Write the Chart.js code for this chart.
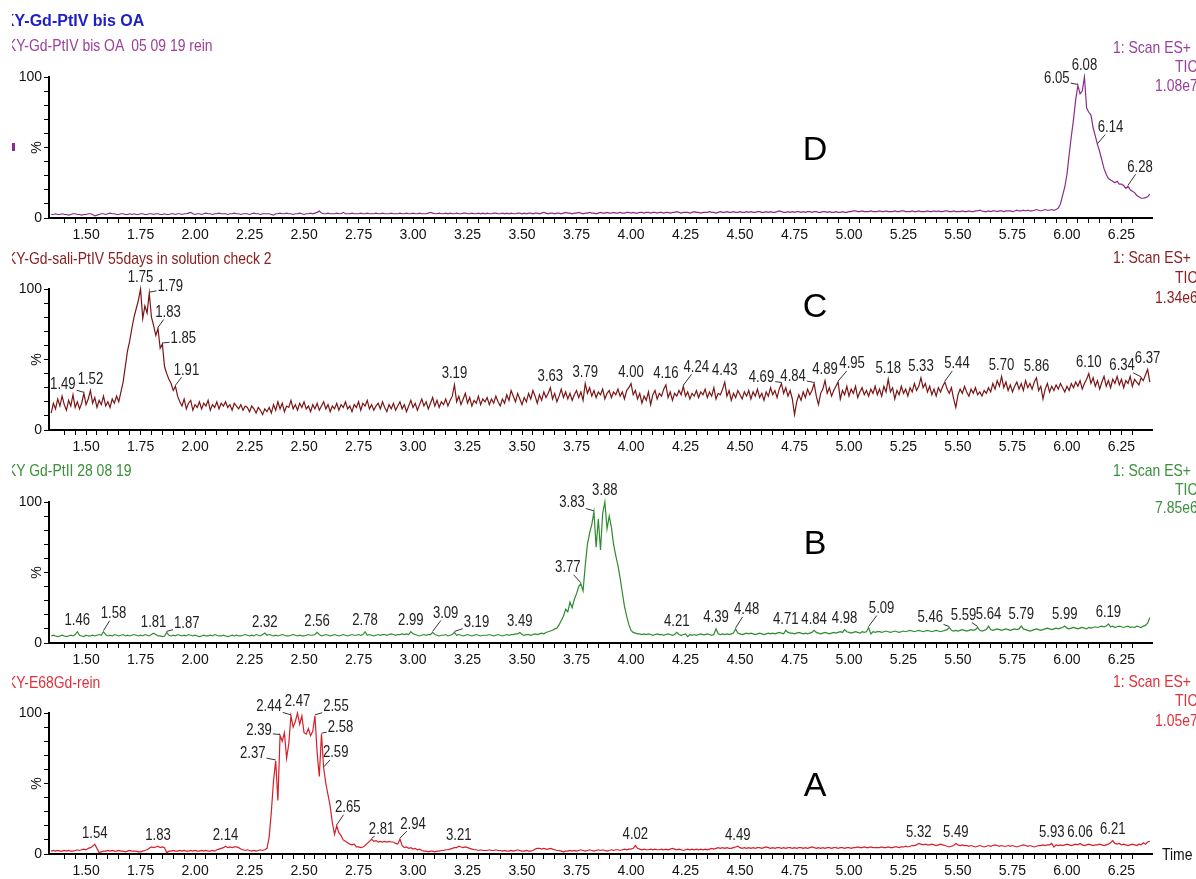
<!DOCTYPE html>
<html>
<head>
<meta charset="utf-8">
<script src="https://cdn.jsdelivr.net/npm/chart.js@4.4.1/dist/chart.umd.min.js"></script>
<style>
body { margin:0; width:1196px; height:879px; overflow:hidden; background:#fff; position:relative;
       font-family:"Liberation Sans", Arial, sans-serif; }
canvas { position:absolute; left:0; }
/* MassLynx uses a narrow face: squeeze Liberation Sans horizontally */
.txt { position:absolute; white-space:pre; line-height:1; font-size:17px;
       transform:translateY(-50%) scaleX(0.82); transform-origin:left center; }
.title { position:absolute; white-space:pre; line-height:1; transform:translateY(-50%);
         font:bold 16px "Liberation Sans", Arial, sans-serif; color:#2020c8; }
.clip { position:absolute; left:12px; top:0; width:420px; height:879px; overflow:hidden; }
.big { position:absolute; font-size:34px; line-height:1; transform:translate(-50%,-50%); color:#000; }
</style>
</head>
<body>
<canvas id="panelD" width="1196" height="250" style="top:0px"></canvas>
<canvas id="panelC" width="1196" height="212" style="top:250px"></canvas>
<canvas id="panelB" width="1196" height="213" style="top:462px"></canvas>
<canvas id="panelA" width="1196" height="211" style="top:675px"></canvas>

<!-- sample names, cut at the left edge like the original export -->
<div class="clip">
  <div class="title" style="left:-9px;top:21px">KY-Gd-PtIV bis OA</div>
  <div class="txt" style="left:-5px;top:45px;color:#9b3f9b">KY-Gd-PtIV bis OA  05 09 19 rein</div>
  <div class="txt" style="left:-5px;top:258px;color:#8b2020">KY-Gd-sali-PtIV 55days in solution check 2</div>
  <div class="txt" style="left:-5px;top:470px;color:#3a8f3a">KY Gd-PtII 28 08 19</div>
  <div class="txt" style="left:-5px;top:682px;color:#e0303a">KY-E68Gd-rein</div>
</div>
<div style="position:absolute;left:12px;top:143px;width:3px;height:8px;background:#8b2c8b"></div>

<!-- scan info, right side -->
<div class="txt" style="left:1113px;top:47px;color:#9b3f9b">1: Scan ES+</div>
<div class="txt" style="left:1175px;top:66px;color:#9b3f9b">TIC</div>
<div class="txt" style="left:1155px;top:85px;color:#9b3f9b">1.08e7</div>
<div class="txt" style="left:1113px;top:257px;color:#8b2020">1: Scan ES+</div>
<div class="txt" style="left:1175px;top:277px;color:#8b2020">TIC</div>
<div class="txt" style="left:1155px;top:297px;color:#8b2020">1.34e6</div>
<div class="txt" style="left:1113px;top:470px;color:#3a8f3a">1: Scan ES+</div>
<div class="txt" style="left:1175px;top:489px;color:#3a8f3a">TIC</div>
<div class="txt" style="left:1155px;top:507px;color:#3a8f3a">7.85e6</div>
<div class="txt" style="left:1113px;top:681px;color:#e0303a">1: Scan ES+</div>
<div class="txt" style="left:1175px;top:700px;color:#e0303a">TIC</div>
<div class="txt" style="left:1155px;top:720px;color:#e0303a">1.05e7</div>
<div class="txt" style="left:1162px;top:854px;color:#111">Time</div>

<div class="big" style="left:815px;top:148px">D</div>
<div class="big" style="left:815px;top:305px">C</div>
<div class="big" style="left:815px;top:542px">B</div>
<div class="big" style="left:815px;top:784px">A</div>

<script>
// Scan grid (minutes)
const T0 = 1.34;
const DT = 0.01;
const X_MIN = 1.33, X_MAX = 6.39;

// Relative intensity (%), one value per scan, 20 scans per row; row comment = first time
const signalD = [
  2.5,2.5,3,2.5,2.5,3,2.5,2.5,2,2.5,3,3,2.5,2.5,2,2.5,2.5,3,3,2.5,          // 1.34
  1.5,2,2.5,3,3,2.5,3,3.5,3,3,2.5,2.5,3,3,2.5,2.5,3,2.5,3,2.5,              // 1.54
  2.5,3,3,2.5,2.5,3,3,2.5,3,3,2.5,2.5,3,2.5,2.5,3,3,2.5,3,3,                // 1.74
  2.5,3,3,3.5,4,3,2.5,3,3,2.5,3,3.5,3,3,2.5,3,3,3.5,3,3,                    // 1.94
  3,2.5,3,3,3.5,3,3,2.5,3,3,3,2.5,3,3.5,3,3,2.5,3,3,3,                      // 2.14
  3,2.5,2,3,3,3.5,3,3,3.5,3,3,2.5,3,3,3.5,3,2.5,3,3,3.5,                    // 2.34
  3,3.5,4,5,3.5,3,3,3.5,3,3,3,3.5,3,3,4,3,3,3,3.5,3,                        // 2.54
  3,3,3.5,3,3,3.5,3,3,3,3.5,3,3,3.5,3,3,3,3.5,3,3,3,                        // 2.74
  3.5,3,3,3.5,3,3,3.5,3,3,3.5,3,3,3,3.5,4,3.5,3,3,3.5,3,                    // 2.94
  3,3.5,3,3.5,3,3,3.5,3,3,3.5,3.5,3,3,3.5,3,3,3.5,3,3.5,3,                  // 3.14
  3.5,3,3,3.5,3.5,3,3,3.5,3,3.5,3,3.5,3,3,3.5,3.5,3,3.5,3,3.5,              // 3.34
  3.5,3,3.5,3.5,3,3.5,4,3.5,3,3.5,3.5,3,3.5,3.5,3,3.5,4,3.5,3.5,3,          // 3.54
  3.5,3.5,4,3.5,3,3.5,3.5,4,3.5,3.5,3,3.5,4,3.5,3.5,4,3.5,3.5,4,3.5,        // 3.74
  3.5,4,3.5,3.5,4,4,3.5,4,3.5,3.5,4,4,3.5,4,4,3.5,4,4,3.5,4,                // 3.94
  4,3.5,4,4,3.5,4,4,4.5,4,3.5,4,4,4,3.5,4,4.5,4,4,3.5,4,                    // 4.14
  4,4,4.5,4,4,3.5,4,4.5,4,4,4.5,4,4,4.5,4,4,4.5,4,4,4.5,                    // 4.34
  4,4.5,4,4,4.5,4.5,4,4,4.5,4,4.5,4,4,4.5,5,4.5,4,4,4.5,4,                  // 4.54
  4.5,4,4.5,4.5,4,4.5,4,4.5,4.5,4,4.5,4.5,4,4,4.5,4.5,4,4.5,4,4,            // 4.74
  4.5,4,4,4.5,4,4,4.5,4.5,5,5,4.5,4.5,5,4.5,4.5,4.5,5,4.5,4.5,4.5,          // 4.94
  5,4.5,4.5,5,4.5,4.5,4.5,5,4.5,4.5,5,5,4.5,4.5,4.5,5,4.5,4.5,5,4.5,        // 5.14
  4.5,4.5,5,4.5,4.5,5,4.5,5,4.5,4.5,5,5,4.5,4.5,5,4.5,4.5,4.5,5,4.5,        // 5.34
  4.5,5,4.5,4.5,5,5,5.5,5,4.5,4.5,5,4.5,5,5,4.5,5,5,4.5,5,5,                // 5.54
  5,4.5,5,5.5,5,5,5.5,5,5.5,5,5,5.5,6,5.5,5,5.5,6,5.5,5.5,6,                // 5.74
  5.5,6,7,10,16,22,31,45,58,70,84,94,88,90,100,78,75,73,64,58,              // 5.94
  52,47,41,35,31,28,27,26,25,26,24,24,23,21,22.5,20,19,18,16,15,            // 6.14
  14,14,14.5,15,17                                                          // 6.34
];

const signalC = [
  12,19,15,22,17,24,18,14,21,17,25,16,20,15,19,26,18,22,28,19,   // 1.34
  23,16,21,18,24,17,20,16,22,19,24,20,27,34,45,56,63,72,80,86,   // 1.54
  92,100,79,88,83,97,80,74,67,72,58,61,45,40,36,33,28,31,24,20,  // 1.74
  17,22,15,19,21,14,18,16,20,15,19,17,21,14,18,16,20,15,19,17,   // 1.94
  20,16,18,14,19,17,15,18,14,17,16,13,17,15,12,16,14,11,15,13,   // 2.14
  16,12,18,14,20,15,19,13,17,16,21,15,18,14,19,16,20,15,17,13,   // 2.34
  18,15,19,14,17,20,15,18,13,17,15,19,14,18,16,20,15,17,13,18,   // 2.54
  16,20,14,19,17,21,15,18,14,17,19,15,20,16,13,18,15,19,14,17,   // 2.74
  20,15,18,13,17,21,16,19,14,18,22,17,20,15,19,23,17,21,16,20,   // 2.94
  18,22,17,21,24,32,20,24,18,22,26,19,23,17,21,19,24,18,22,20,   // 3.14
  23,18,22,19,24,20,17,22,19,25,21,28,24,20,26,22,18,23,20,26,   // 3.34
  22,28,24,19,25,21,27,23,26,30,22,26,20,24,29,23,27,22,26,21,   // 3.54
  25,28,23,27,21,33,26,30,24,28,23,27,25,29,22,26,28,23,27,25,   // 3.74
  29,24,27,22,28,30,33,25,28,22,26,19,24,21,27,18,25,28,22,26,   // 3.94
  24,29,32,23,27,21,26,24,28,25,31,24,27,22,26,24,28,23,27,25,   // 4.14
  29,23,27,24,30,22,26,25,29,34,24,28,21,26,23,28,25,22,27,24,   // 4.34
  28,22,27,24,29,23,26,21,27,24,30,25,28,23,29,33,26,30,24,28,   // 4.54
  22,11,20,25,21,27,23,29,25,28,33,24,18,26,29,35,26,30,24,28,   // 4.74
  31,34,22,28,25,31,24,29,26,31,23,27,30,25,28,24,29,26,31,25,   // 4.94
  29,24,31,27,36,27,30,22,28,25,31,26,29,24,30,27,33,28,31,37,   // 5.14
  30,33,27,31,25,29,24,30,27,31,34,29,26,30,22,16,25,29,26,31,   // 5.34
  27,24,29,26,30,25,27,24,28,26,30,27,33,29,35,31,38,30,34,28,   // 5.54
  32,27,31,34,29,33,28,35,30,33,29,34,37,28,31,22,29,33,27,31,   // 5.74
  28,32,29,33,30,27,31,28,33,30,34,31,35,29,33,36,40,33,37,31,   // 5.94
  35,29,34,38,31,35,30,36,33,38,32,36,30,35,33,38,31,36,34,32,   // 6.14
  37,35,39,43,34                                                 // 6.34
];

const signalB = [
  5,5.5,5,4.5,5,5.5,5,4.5,5,5.5,5,6,8,5.5,5,4.5,5.5,5,5,5.5,                // 1.34
  5,5.5,6,5.5,8,6,5,5.5,5,6,5.5,5,5.5,6,5,5.5,5,5.5,6,5.5,                  // 1.54
  5,5.5,5,6,5.5,5,6,7,6,5,5,4.5,5,7.5,5.5,5,5.5,5,6,5.5,                    // 1.74
  5,5.5,5,6,5.5,5,5.5,5,4.5,5,5.5,5,5,5.5,5,6,5.5,5,5,5.5,                  // 1.94
  5,4.5,5,5.5,5,5.5,5,5,5.5,6,5.5,5,5.5,5,6,5.5,5,6,7,5.5,                  // 2.14
  6,5.5,5,5.5,5,5.5,6,5.5,5,5,5.5,6,5.5,5,5.5,5,5,5.5,6,5.5,                // 2.34
  5.5,6,7.5,6,5,5.5,6,5.5,5,5.5,6,5.5,5,5.5,6,5.5,5,5.5,6,5.5,              // 2.54
  5.5,6,5.5,6,8,5.5,6,5.5,5,5.5,6,5.5,6,6,5.5,6,6.5,6,5.5,6,                // 2.74
  6,6.5,6,6.5,6,8,6.5,6,5.5,5,5.5,6,5.5,6,6,7.5,6,5.5,5,5.5,                // 2.94
  5.5,6,5,5.5,6,7.5,5.5,6,5.5,5,5.5,6,5.5,5,5.5,6,5.5,5,5.5,5.5,            // 3.14
  5.5,6,5.5,5,5.5,6,5.5,5,5.5,6,5.5,6,6,6.5,6.5,7.5,6,5.5,6,6,              // 3.34
  5.5,6,6.5,6,6.5,7,6.5,7.5,8,8.5,9,10,10.5,13,16,19,24,22,29,25,           // 3.54
  31,35,40,42,37,55,70,78,84,93,68,88,66,92,100,81,90,82,70,62,             // 3.74
  55,46,36,26,19,13,9,7.5,7,6.5,6.5,6,6.5,6,6.5,6,5.5,6,6.5,6,              // 3.94
  6,5.5,6,6.5,6,5.5,6,7.5,6,5.5,6,6.5,4.5,6,5.5,6,5.5,6,6.5,6,              // 4.14
  6,6.5,6,5.5,6,10,6.5,6,6.5,6,6.5,6,6.5,7,10,7,6.5,6,6.5,7,                // 4.34
  6.5,7,6.5,6,6.5,7,6.5,6,6.5,7,6.5,7,6.5,7,7.5,7,6.5,9,7.5,7,              // 4.54
  7,6.5,7,7.5,7,6.5,7,6.5,7,7.5,9,7.5,7,6.5,7,7.5,7,6.5,7,7.5,              // 4.74
  7,7.5,8,7.5,9.5,8,7.5,7,7.5,8,7.5,7,8,7.5,8,11,6.5,8,7.5,8,               // 4.94
  8,7.5,8,8.5,8,7.5,8,8.5,8,7.5,8,8.5,8,8.5,9,8.5,8,8.5,9,8.5,              // 5.14
  8,8.5,9,8.5,8,8.5,9,8.5,8,8.5,9,9.5,11,9,8.5,9,8.5,9,9.5,9,               // 5.34
  8.5,9,9.5,9,9.5,11,9,8.5,9,9.5,12,9.5,9,9.5,10,9.5,9,9.5,10,9.5,          // 5.54
  9,9.5,10,9.5,10,12,10,9.5,9,8.5,9,9.5,10,9.5,9,9.5,10,10.5,10,9.5,        // 5.74
  10,10.5,10,10.5,11,12,10.5,10,10.5,11,10.5,10,10.5,11,10.5,10,11,10.5,11,11.5, // 5.94
  11,11.5,12,11.5,12,13.5,11.5,12,11,11.5,12,11.5,11,11.5,12,11,11.5,11,12,11.5, // 6.14
  11,12,12.5,14,18                                                          // 6.34
];

const signalA = [
  2,2.5,2,2.5,2,2,2.5,2,2.5,2,2,2.5,3,2.5,3,3.5,3,4,4.5,5.5,                // 1.34
  7,4,1,1.5,2,2,2.5,2,2.5,2,2,2.5,2,2,1.5,2,2.5,2,2,2,                      // 1.54
  1.5,1.5,2,2.5,3,4,5,4.5,5,5.5,4.5,5,4.5,1,2,2,2.5,2,2,2.5,                // 1.74
  2,2.5,2,2,2.5,2,2.5,2,2,2.5,2,2.5,2,2,2.5,2,3,3.5,4,4.5,                  // 1.94
  5.5,4.5,5,4.5,5,5,4.5,3.5,3,2.5,3,2.5,2,2.5,2,2.5,3,2.5,3,4,              // 2.14
  12,30,52,66,38,84,80,86,68,78,98,90,94,100,92,98,86,85,89,84,             // 2.34
  87,98,72,55,85,61,50,42,34,22,14,20,15,13,10,9,8,7,6.5,7,                 // 2.54
  5,5,4.5,5,6,7.5,9,10.5,9,9.5,8.5,9,8.5,9,8.5,9,8.5,8.5,7.5,7,             // 2.74
  10.5,6,4.5,5,4,4.5,3.5,4,3,3.5,2.5,2,2,1.5,2,2,1.5,2,2,2.5,               // 2.94
  2.5,3,3,3.5,4,4.5,4.5,5.5,5,4.5,5,4.5,4,3.5,3,3,2.5,3,2.5,2.5,            // 3.14
  2.5,3,2.5,2.5,3,2.5,2.5,2,2.5,2,2,2.5,2,2.5,3,2.5,2,2,2.5,2,              // 3.34
  2,2.5,3.5,4,4,3.5,4,3.5,3.5,4,3.5,3,2.5,2.5,2,1.5,2,2,2.5,2,              // 3.54
  2.5,2,2.5,3,2.5,2,2.5,3,2.5,2,2.5,3,2.5,3,2.5,2,2.5,3,2.5,3,              // 3.74
  3,2.5,3,3.5,3,3.5,3.5,4,6,4,3.5,3,3.5,3,3,3.5,3,3.5,3,3,                  // 3.94
  3.5,3,3.5,3,3.5,4,3.5,3,3.5,3,2.5,3,3.5,3,3.5,3,3.5,3,3.5,3,              // 4.14
  3.5,3,3.5,4,3.5,4,4.5,4,4.5,4,4.5,4,4,4.5,5,5.5,4.5,4,4.5,4,              // 4.34
  4.5,4,4.5,4,4.5,4.5,4,4.5,5,4.5,4,4.5,4,4.5,4.5,4,4.5,4,4.5,4.5,          // 4.54
  4,4.5,4,4.5,4.5,4,4.5,4,4.5,5,4.5,4,4.5,4,4.5,4,4.5,4.5,4,4.5,            // 4.74
  4.5,4,4.5,4.5,4,4.5,4.5,4,4.5,4.5,5,4.5,4.5,5,4.5,4.5,5,4.5,4.5,4.5,      // 4.94
  4.5,5,4.5,4.5,5,4.5,4.5,5,5,4.5,5,5,5.5,5,5.5,6,6,6.5,7.5,7,              // 5.14
  6.5,7,6.5,6.5,7,6.5,6,6.5,7,6.5,6,5.5,5,5.5,6,7.5,6.5,6,6.5,6,            // 5.34
  6,5.5,6,5.5,5,5.5,6,5.5,5,5.5,6,5.5,6,6.5,6,5.5,6,5.5,5.5,6,              // 5.54
  5.5,6,5.5,5,5.5,6,6.5,6,5.5,6,5.5,5,5.5,6,6,6.5,6,6.5,6.5,7.5,            // 5.74
  5,6.5,6,6.5,6,6.5,7,6.5,6,6.5,7,6.5,7.5,6.5,6,6.5,7,6.5,6,6.5,            // 5.94
  6.5,7,6.5,6,6.5,7,8,9.5,7.5,7,7.5,6.5,7,6.5,6,6.5,7,6.5,6,7,              // 6.14
  6.5,8,7,8.5,9                                                             // 6.34
];

// Labelled peak times (min)
const peaksD = [6.05, 6.08, 6.14, 6.28];
const peaksC = [1.49, 1.52, 1.75, 1.79, 1.83, 1.85, 1.91, 3.19, 3.63, 3.79, 4.00, 4.16, 4.24,
                4.43, 4.69, 4.84, 4.89, 4.95, 5.18, 5.33, 5.44, 5.70, 5.86, 6.10, 6.34, 6.37];
const peaksB = [1.46, 1.58, 1.81, 1.87, 2.32, 2.56, 2.78, 2.99, 3.09, 3.19, 3.49, 3.77, 3.83, 3.88,
                4.21, 4.39, 4.48, 4.71, 4.84, 4.98, 5.09, 5.46, 5.59, 5.64, 5.79, 5.99, 6.19];
const peaksA = [1.54, 1.83, 2.14, 2.37, 2.39, 2.44, 2.47, 2.55, 2.58, 2.59, 2.65, 2.81, 2.94,
                3.21, 4.02, 4.49, 5.32, 5.49, 5.93, 6.06, 6.21];

// Label placement (px offset of label centre from its peak), default straight above
const nudgeD = { '6.05': [-21, -7], '6.14': [13, -17], '6.28': [12, -19] };
const nudgeC = { '1.49': [-21, -9], '1.79': [21, -7], '1.83': [10, -16], '1.85': [21, -5], '1.91': [11, -16],
                 '4.24': [13, -19], '4.69': [-20, -6], '4.84': [-21, -7], '4.95': [14, -18],
                 '5.44': [12, -18], '6.34': [-19, -12] };
const nudgeB = { '1.58': [10, -18], '1.87': [20, -9], '3.09': [13, -19], '3.19': [22, -10],
                 '3.77': [-13, -16], '3.83': [-22, -9], '4.48': [11, -19], '5.09': [13, -19],
                 '5.46': [-19, -10], '5.59': [-14, -12] };
const nudgeA = { '2.37': [-23, -7], '2.39': [-21, -5], '2.44': [-22, -9], '2.55': [21, -9],
                 '2.58': [19, -7], '2.59': [12, -15], '2.65': [11, -18], '2.81': [10, -10], '2.94': [13, -15] };

const FONT = '"Liberation Sans", Arial, sans-serif';
const SQUEEZE = 0.82;   // horizontal scale for the narrow MassLynx label face

function makePanel(id, signal, peaks, nudges, color, padTop, padBottom) {
    if (signal.length !== 505) throw new Error(id + " has " + signal.length + " points");
    const points = signal.map((v, i) => ({ x: Math.round((T0 + i * DT) * 100) / 100, y: v }));

    // peak time labels with leader lines
    const peakLabels = {
        id: "peakLabels",
        afterDatasetsDraw(chart) {
            const { ctx, scales: { x, y } } = chart;
            ctx.save();
            ctx.font = "16px " + FONT;
            ctx.fillStyle = "#222";
            ctx.strokeStyle = "#333";
            ctx.lineWidth = 1;
            ctx.textAlign = "center";
            ctx.textBaseline = "middle";
            peaks.forEach(t => {
                const p = points[Math.round((t - T0) / DT)];
                const ax = x.getPixelForValue(p.x), ay = y.getPixelForValue(p.y);
                const [dx, dy] = nudges[t.toFixed(2)] || [0, -11];
                const lx = ax + dx, ly = ay + dy;
                const text = t.toFixed(2);
                ctx.save();
                ctx.translate(lx, ly);
                ctx.scale(SQUEEZE, 1);
                ctx.fillText(text, 0, 0);
                ctx.restore();
                if (Math.abs(dx) > 3) {
                    const hw = ctx.measureText(text).width * SQUEEZE / 2 + 1, hh = 7;
                    const vx = ax - lx, vy = ay - ly;
                    const s = Math.min(hw / Math.abs(vx || 1e-6), hh / Math.abs(vy || 1e-6));
                    ctx.beginPath();
                    ctx.moveTo(lx + vx * s, ly + vy * s);
                    ctx.lineTo(ax, ay - 1);
                    ctx.stroke();
                }
            });
            ctx.restore();
        }
    };

    // rotated "%" on the intensity axis
    const percentMark = {
        id: "percentMark",
        afterDraw(chart) {
            const { ctx, scales: { y } } = chart;
            ctx.save();
            ctx.translate(y.left + 37, y.getPixelForValue(50));
            ctx.rotate(-Math.PI / 2);
            ctx.font = "14px " + FONT;
            ctx.fillStyle = "#111";
            ctx.textAlign = "center";
            ctx.textBaseline = "middle";
            ctx.fillText("%", 0, 0);
            ctx.restore();
        }
    };

    return new Chart(document.getElementById(id), {
        type: "line",
        data: {
            datasets: [{
                data: points,
                borderColor: color,
                borderWidth: 1.2,
                pointRadius: 0,
                tension: 0,
                clip: 4
            }]
        },
        options: {
            responsive: false,
            animation: false,
            devicePixelRatio: 1,
            layout: { padding: { top: padTop, right: 44, bottom: padBottom, left: 0 } },
            plugins: { legend: { display: false }, tooltip: { enabled: false } },
            scales: {
                x: {
                    type: "linear",
                    min: X_MIN,
                    max: X_MAX,
                    afterBuildTicks: axis => {
                        axis.ticks = axis.ticks.filter(t => Math.abs(t.value * 20 - Math.round(t.value * 20)) < 1e-6);
                    },
                    afterFit: axis => { axis.height = 30; },
                    ticks: {
                        stepSize: 0.05,
                        autoSkip: false,
                        maxRotation: 0,
                        minRotation: 0,
                        padding: 4,
                        color: "#111",
                        font: { family: FONT, size: 14 },
                        callback: v => Math.abs(v * 4 - Math.round(v * 4)) < 1e-6 ? v.toFixed(2) : ""
                    },
                    grid: { drawOnChartArea: false, tickLength: 5, tickColor: "#000" },
                    border: { color: "#000", width: 2 }
                },
                y: {
                    min: 0,
                    max: 100,
                    afterFit: axis => { axis.width = 49; },
                    ticks: {
                        stepSize: 10,
                        autoSkip: false,
                        padding: 2,
                        color: "#111",
                        font: { family: FONT, size: 14 },
                        callback: v => (v === 0 || v === 100) ? String(v) : ""
                    },
                    grid: { drawOnChartArea: false, tickLength: 5, tickColor: "#000" },
                    border: { color: "#000", width: 2 }
                }
            }
        },
        plugins: [peakLabels, percentMark]
    });
}

makePanel("panelD", signalD, peaksD, nudgeD, "#8b2c8b", 77, 2);
makePanel("panelC", signalC, peaksC, nudgeC, "#7a1515", 39, 2);
makePanel("panelB", signalB, peaksB, nudgeB, "#2e8b2e", 40, 2);
makePanel("panelA", signalA, peaksA, nudgeA, "#d81e28", 38, 2);
</script>
</body>
</html>
